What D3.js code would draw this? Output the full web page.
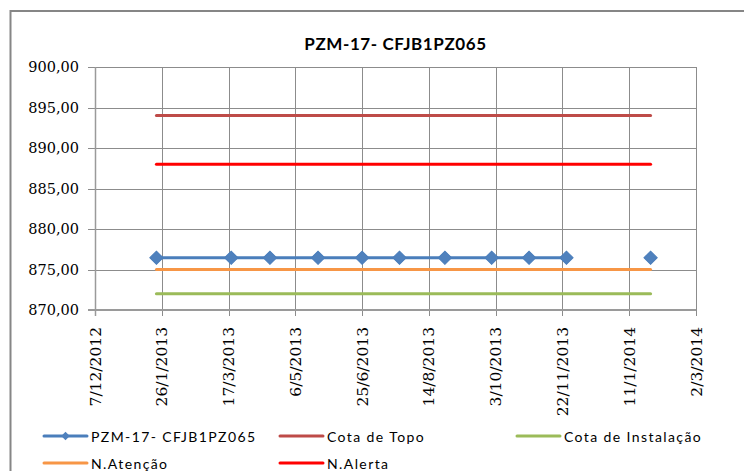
<!DOCTYPE html>
<html>
<head>
<meta charset="utf-8">
<script src="https://cdn.jsdelivr.net/npm/d3@7"></script>
<style>
  body { margin: 0; background: #fff; }
  svg { display: block; }
</style>
</head>
<body>
<div id="chart"></div>
<script>
(function piezometer_chart() {

  const title = "PZM-17- CFJB1PZ065";

  // x tick labels (Excel major unit: 50 days)
  const xTickLabels = ["7/12/2012", "26/1/2013", "17/3/2013", "6/5/2013", "25/6/2013",
    "14/8/2013", "3/10/2013", "22/11/2013", "11/1/2014", "2/3/2014"];
  const yTicks = [870, 875, 880, 885, 890, 895, 900];

  // reading dates and water level (null = no reading)
  const readDates = ["22/1/2013", "19/3/2013", "17/4/2013", "23/5/2013", "25/6/2013",
    "23/7/2013", "26/8/2013", "30/9/2013", "28/10/2013", "25/11/2013", "23/12/2013", "27/1/2014"];
  const readValues = [876.45, 876.45, 876.45, 876.45, 876.45,
    876.45, 876.45, 876.45, 876.45, 876.45, null, 876.45];

  // reference levels
  const cotaTopo = 894;
  const cotaInstalacao = 872;
  const nAtencao = 875;
  const nAlerta = 888;

  const seriesNames = ["PZM-17- CFJB1PZ065", "Cota de Topo", "Cota de Instalação", "N.Atenção", "N.Alerta"];
  const seriesColors = ["#4A7EBB", "#BE4B48", "#9BBB59", "#F79646", "#FF0000"];

  const width = 744, height = 471;
  const margin = { left: 95, right: 48, top: 67, bottom: 161 };

  const parse = d3.utcParse("%d/%m/%Y");

  const x = d3.scaleUtc()
    .domain([parse(xTickLabels[0]), parse(xTickLabels[xTickLabels.length - 1])])
    .range([margin.left, width - margin.right]);

  const y = d3.scaleLinear()
    .domain([870, 900])
    .range([height - margin.bottom, margin.top]);

  const svg = d3.select("#chart")
    .append("svg")
    .attr("width", width)
    .attr("height", height);

  // chart frame
  svg.append("rect")
    .attr("x", 10.5).attr("y", 11)
    .attr("width", 800).attr("height", 520)
    .attr("fill", "#fff")
    .attr("stroke", "#868686")
    .attr("stroke-width", 2);

  svg.append("text")
    .attr("x", (margin.left + width - margin.right) / 2)
    .attr("y", 50)
    .attr("text-anchor", "middle")
    .attr("font-family", "Lato, 'Open Sans', sans-serif")
    .attr("font-weight", "bold")
    .attr("font-size", 17)
    .attr("letter-spacing", 0.6)
    .attr("fill", "#000")
    .text(title);

  // gridlines
  const xTickDates = xTickLabels.map(parse);
  svg.append("g")
    .selectAll("line")
    .data(yTicks)
    .join("line")
    .attr("x1", margin.left - 7).attr("x2", width - margin.right)
    .attr("y1", d => Math.round(y(d)) + 0.5).attr("y2", d => Math.round(y(d)) + 0.5)
    .attr("stroke", "#8c8c8c");

  svg.append("g")
    .selectAll("line")
    .data(xTickDates)
    .join("line")
    .attr("x1", d => Math.round(x(d)) + 0.5).attr("x2", d => Math.round(x(d)) + 0.5)
    .attr("y1", margin.top).attr("y2", height - margin.bottom + 6)
    .attr("stroke", "#8c8c8c");

  // axis lines
  svg.append("line")
    .attr("x1", margin.left - 7).attr("x2", width - margin.right)
    .attr("y1", y(870)).attr("y2", y(870))
    .attr("stroke", "#9a9a9a").attr("stroke-width", 2);
  svg.append("line")
    .attr("x1", margin.left + 0.5).attr("x2", margin.left + 0.5)
    .attr("y1", margin.top).attr("y2", y(870) + 6)
    .attr("stroke", "#9a9a9a").attr("stroke-width", 1.5);

  // y labels
  svg.append("g")
    .selectAll("text")
    .data(yTicks)
    .join("text")
    .attr("x", 79)
    .attr("y", d => y(d) + 5)
    .attr("text-anchor", "end")
    .attr("font-family", "'DejaVu Serif', serif")
    .attr("font-size", 14.5)
    .attr("fill", "#000")
    .text(d => d3.format(".2f")(d).replace(".", ","));

  // x labels
  svg.append("g")
    .selectAll("text")
    .data(xTickLabels)
    .join("text")
    .attr("transform", d => `translate(${x(parse(d))},327) rotate(-90)`)
    .attr("dy", "0.36em")
    .attr("text-anchor", "end")
    .attr("font-family", "'DejaVu Serif', serif")
    .attr("font-size", 15.5)
    .attr("fill", "#000")
    .text(d => d);

  // reference level lines across the reading period
  const levels = [cotaTopo, cotaInstalacao, nAtencao, nAlerta];
  const first = parse(readDates[0]), last = parse(readDates[readDates.length - 1]);
  svg.append("g")
    .selectAll("line")
    .data(levels)
    .join("line")
    .attr("x1", x(first)).attr("x2", x(last))
    .attr("y1", d => y(d)).attr("y2", d => y(d))
    .attr("stroke", (d, i) => seriesColors[i + 1])
    .attr("stroke-width", 3)
    .attr("stroke-linecap", "round");

  // piezometer readings
  const readings = readDates.map((d, i) => ({ date: parse(d), value: readValues[i] }));
  const line = d3.line()
    .defined(d => d.value != null)
    .x(d => x(d.date))
    .y(d => y(d.value));

  svg.append("path")
    .datum(readings)
    .attr("d", line)
    .attr("fill", "none")
    .attr("stroke", seriesColors[0])
    .attr("stroke-width", 3)
    .attr("stroke-linejoin", "round");

  const diamond = d3.symbol(d3.symbolSquare, 88);
  svg.append("g")
    .selectAll("path")
    .data(readings.filter(d => d.value != null))
    .join("path")
    .attr("transform", d => `translate(${x(d.date)},${y(d.value)}) rotate(45)`)
    .attr("d", diamond)
    .attr("fill", "#4F81BD")
    .attr("stroke", "#4A7EBB");

  // legend
  const legendPos = [[44, 436], [280, 436], [517, 436], [44, 463], [280, 463]];
  const legend = svg.append("g")
    .selectAll("g")
    .data(seriesNames)
    .join("g")
    .attr("transform", (d, i) => `translate(${legendPos[i][0]},${legendPos[i][1]})`);

  legend.append("line")
    .attr("x1", 0).attr("x2", 43)
    .attr("stroke", (d, i) => seriesColors[i])
    .attr("stroke-width", 3)
    .attr("stroke-linecap", "round");

  legend.filter((d, i) => i === 0)
    .append("path")
    .attr("transform", "translate(21.5,0) rotate(45)")
    .attr("d", d3.symbol(d3.symbolSquare, 36))
    .attr("fill", "#4F81BD");

  legend.append("text")
    .attr("x", 47)
    .attr("y", 5.5)
    .attr("font-family", "Lato, 'Open Sans', sans-serif")
    .attr("font-size", 14)
    .attr("letter-spacing", 1.4)
    .attr("fill", "#000")
    .text(d => d);

})();
</script>
</body>
</html>
